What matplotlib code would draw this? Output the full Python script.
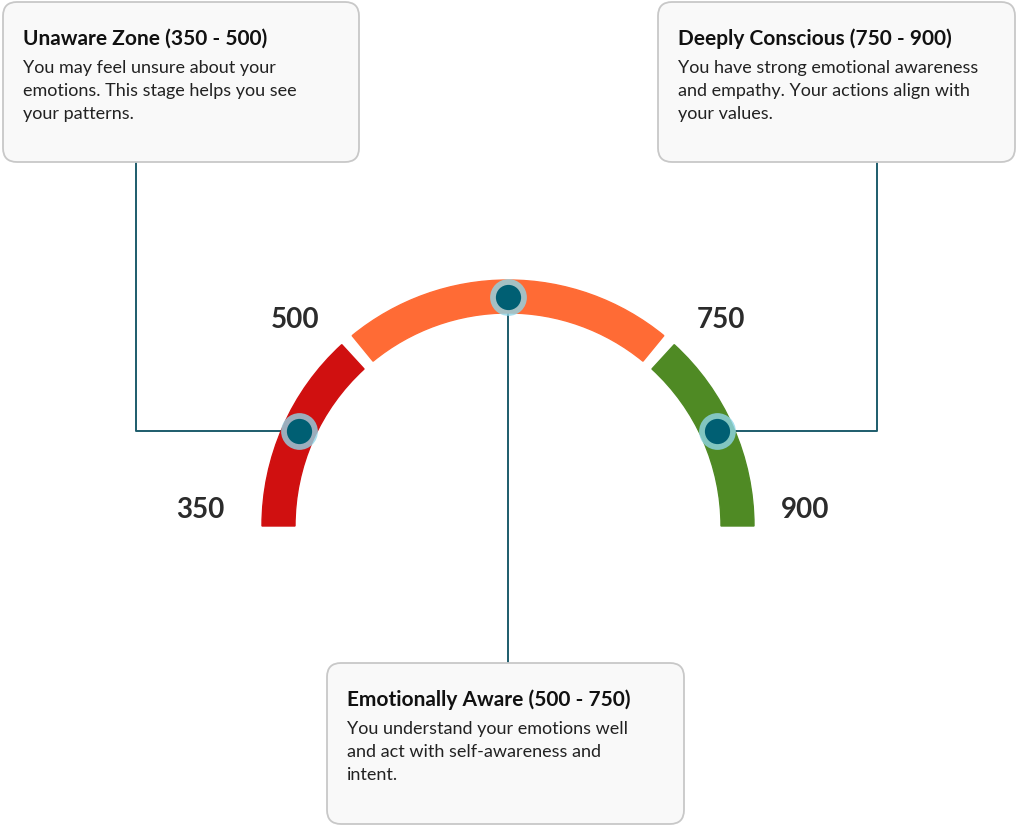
"""Emotional awareness gauge with three callout boxes."""

import matplotlib.pyplot as plt
import numpy as np
from matplotlib.patches import FancyBboxPatch, Wedge

plt.rcParams["font.family"] = ["Lato", "DejaVu Sans"]

# data
bounds = [350, 500, 750, 900]
seg_colors = ["#d01010", "#ff6b35", "#4f8a24"]
titles = ["Unaware Zone (350 - 500)", "Emotionally Aware (500 - 750)", "Deeply Conscious (750 - 900)"]
bodies = [
    "You may feel unsure about your\nemotions. This stage helps you see\nyour patterns.",
    "You understand your emotions well\nand act with self-awareness and\nintent.",
    "You have strong emotional awareness\nand empathy. Your actions align with\nyour values.",
]

W, H = 1018, 828
CX, CY = 508, H - 527
R_OUT, R_IN = 246, 213
R_MID = (R_OUT + R_IN) / 2
LINE = "#1d5c6b"


def val2ang(v):
    """Map a score to a gauge angle in degrees."""
    return 180 - (v - bounds[0]) / (bounds[-1] - bounds[0]) * 180


def pt(v, r):
    a = np.radians(val2ang(v))
    return CX + r * np.cos(a), CY + r * np.sin(a)


fig = plt.figure(figsize=(W / 100, H / 100), dpi=100)
ax = fig.add_axes([0, 0, 1, 1])
ax.set_xlim(0, W)
ax.set_ylim(0, H)
ax.axis("off")

# gauge segments
gap = 1.6
for i, c in enumerate(seg_colors):
    a1 = val2ang(bounds[i + 1]) + (gap if i < 2 else 0)
    a2 = val2ang(bounds[i]) - (gap if i > 0 else 0)
    ax.add_patch(Wedge((CX, CY), R_OUT, a1, a2, width=R_OUT - R_IN, color=c, zorder=2))

# scale labels
label_pos = {350: (200, 510), 500: (295, 320), 750: (721, 320), 900: (805, 510)}
for v, (x, y) in label_pos.items():
    ax.text(x, H - y, str(v), fontsize=20, fontweight="bold", color="#2b2b2b",
            ha="center", va="center")

# boxes: (x0, y0 top, x1, y1 bottom) in pixel coords
boxes = [(2, 2, 360, 164), (326, 663, 685, 826), (657, 2, 1016, 164)]
mids = [(bounds[i] + bounds[i + 1]) / 2 for i in range(3)]
for i, (x0, y0, x1, y1) in enumerate(boxes):
    ax.add_patch(FancyBboxPatch((x0 + 1, H - y1 + 1), x1 - x0 - 2, y1 - y0 - 2,
                                boxstyle="round,pad=0,rounding_size=14",
                                fc="#f9f9f9", ec="#c8c8c8", lw=1.3, zorder=3))
    ax.text(x0 + 21, H - y0 - 37, titles[i], fontsize=15, fontweight="bold",
            color="#111111", va="center", zorder=4)
    ax.text(x0 + 21, H - y0 - 58, bodies[i], fontsize=13, color="#222222",
            va="top", linespacing=1.55, zorder=4)

# connectors and markers
dots = [pt(m, R_MID) for m in mids]
ax.plot([136, 136, dots[0][0]], [H - 164, dots[0][1], dots[0][1]], color=LINE, lw=1.4, zorder=1)
ax.plot([877, 877, dots[2][0]], [H - 164, dots[2][1], dots[2][1]], color=LINE, lw=1.4, zorder=1)
ax.plot([dots[1][0], dots[1][0]], [dots[1][1], H - 663], color=LINE, lw=1.4, zorder=1)
for x, y in dots:
    ax.scatter([x], [y], s=700, color="#8fd6e8", alpha=0.8, zorder=5, lw=0)
    ax.scatter([x], [y], s=330, color="#005f73", zorder=6, lw=0)

fig.savefig("out.png", dpi=100)
